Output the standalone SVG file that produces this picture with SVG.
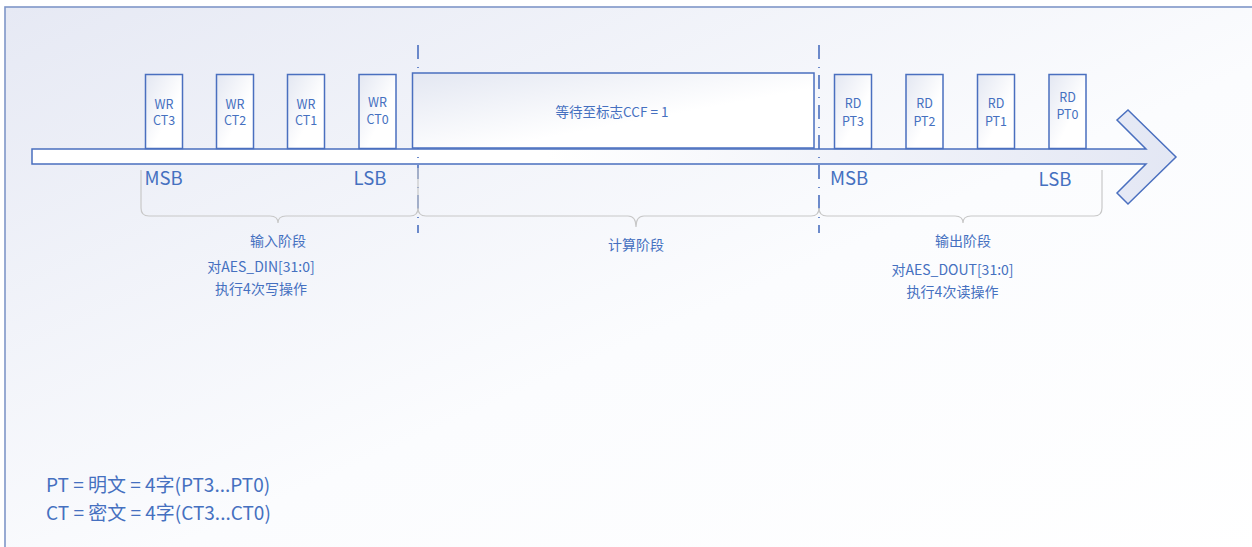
<svg xmlns="http://www.w3.org/2000/svg" width="1252" height="547" viewBox="0 0 1252 547">
<defs>
<linearGradient id="bg" x1="0" y1="0" x2="1" y2="1" gradientUnits="objectBoundingBox">
<stop offset="0" stop-color="#e6e9f4"/>
<stop offset="0.55" stop-color="#fbfcfe"/>
<stop offset="1" stop-color="#ffffff"/>
</linearGradient>
<linearGradient id="boxg" x1="0" y1="0" x2="1" y2="1">
<stop offset="0" stop-color="#e3e7f2"/>
<stop offset="0.6" stop-color="#ffffff"/>
<stop offset="1" stop-color="#ffffff"/>
</linearGradient>
<linearGradient id="arrg" x1="32" y1="0" x2="1176" y2="0" gradientUnits="userSpaceOnUse">
<stop offset="0" stop-color="#ffffff"/>
<stop offset="0.45" stop-color="#ffffff"/>
<stop offset="1" stop-color="#e3e7f4"/>
</linearGradient>
<style>
.box{fill:url(#boxg);stroke:#4a6fbf;stroke-width:1.5}
.t{font-family:"Noto Sans CJK SC","Noto Sans",sans-serif;fill:#4570c0;text-anchor:middle;dominant-baseline:central}
.s12{font-size:12.5px}
.s13{font-size:13.5px}
.s14{font-size:14px}
.s18{font-size:18.5px}
.s19{font-size:19px}
.brace{fill:none;stroke:#c8c8c8;stroke-width:1.2}
.dash{stroke:#4a6fbf;stroke-width:1.6;stroke-dasharray:14 8 1 7;fill:none}
</style>
</defs>
<rect x="0" y="0" width="1252" height="547" fill="#ffffff"/>
<rect x="5" y="7" width="1260" height="560" fill="url(#bg)" stroke="#7f96c8" stroke-width="1.6"/>

<g id="timeline">
<polygon points="32,149 1146,149 1117,120 1128,110 1176,157 1128,204 1117,193 1146,164 32,164" fill="url(#arrg)" stroke="#4a6fbf" stroke-width="1.5" stroke-linejoin="miter"/>
</g>

<g id="connectors">
<line class="dash" x1="418" y1="45" x2="418" y2="233"/>
<line class="dash" x1="819" y1="45" x2="819" y2="233"/>
<path class="brace" d="M141,170 V208 Q141,216 149,216 H270 Q278,216 278,223 Q278,216 286,216 H410 Q418,216 418,208 V168"/>
<path class="brace" d="M418,208 Q418,216 426,216 H628 Q636,216 636,227 Q636,216 644,216 H811 Q819,216 819,208"/>
<path class="brace" d="M819,208 Q819,216 827,216 H955 Q963,216 963,223 Q963,216 971,216 H1094 Q1102,216 1102,208 V170"/>
</g>

<g id="wr-ct3"><rect class="box" x="145.5" y="74.5" width="37" height="74"/><text class="t s12" x="164" y="103">WR</text><text class="t s12" x="164" y="119.5">CT3</text></g>
<g id="wr-ct2"><rect class="box" x="216.5" y="74.5" width="37" height="74"/><text class="t s12" x="235" y="103">WR</text><text class="t s12" x="235" y="119.5">CT2</text></g>
<g id="wr-ct1"><rect class="box" x="287.5" y="74.5" width="37" height="74"/><text class="t s12" x="306" y="103">WR</text><text class="t s12" x="306" y="119.5">CT1</text></g>
<g id="wr-ct0"><rect class="box" x="359" y="74.5" width="37" height="74"/><text class="t s12" x="377.5" y="101.5">WR</text><text class="t s12" x="377.5" y="118">CT0</text></g>

<g id="wait"><rect class="box" x="412.5" y="73" width="401.5" height="75"/><text class="t s13" x="612" y="110.5">等待至标志CCF = 1</text></g>

<g id="rd-pt3"><rect class="box" x="834.5" y="74.5" width="37" height="74"/><text class="t s12" x="853" y="102.5">RD</text><text class="t s12" x="853" y="120">PT3</text></g>
<g id="rd-pt2"><rect class="box" x="906" y="74.5" width="37" height="74"/><text class="t s12" x="924.5" y="102.5">RD</text><text class="t s12" x="924.5" y="120">PT2</text></g>
<g id="rd-pt1"><rect class="box" x="977.5" y="74.5" width="37" height="74"/><text class="t s12" x="996" y="102.5">RD</text><text class="t s12" x="996" y="120">PT1</text></g>
<g id="rd-pt0"><rect class="box" x="1049" y="74.5" width="37" height="74"/><text class="t s12" x="1067.5" y="96.5">RD</text><text class="t s12" x="1067.5" y="113.5">PT0</text></g>

<g id="labels">
<text class="t s18" x="163.5" y="177">MSB</text>
<text class="t s18" x="370" y="177">LSB</text>
<text class="t s18" x="849" y="177">MSB</text>
<text class="t s18" x="1055" y="178">LSB</text>
<text class="t s14" x="278" y="239.5">输入阶段</text>
<text class="t s14" x="261" y="266">对AES_DIN[31:0]</text>
<text class="t s14" x="261" y="288">执行4次写操作</text>
<text class="t s14" x="636" y="244">计算阶段</text>
<text class="t s14" x="963" y="239.5">输出阶段</text>
<text class="t s14" x="952.5" y="269">对AES_DOUT[31:0]</text>
<text class="t s14" x="952.5" y="290.5">执行4次读操作</text>
<text class="t s19" x="46" y="483.5" style="text-anchor:start">PT = 明文 = 4字(PT3...PT0)</text>
<text class="t s19" x="46" y="511" style="text-anchor:start">CT = 密文 = 4字(CT3...CT0)</text>
</g>
</svg>
